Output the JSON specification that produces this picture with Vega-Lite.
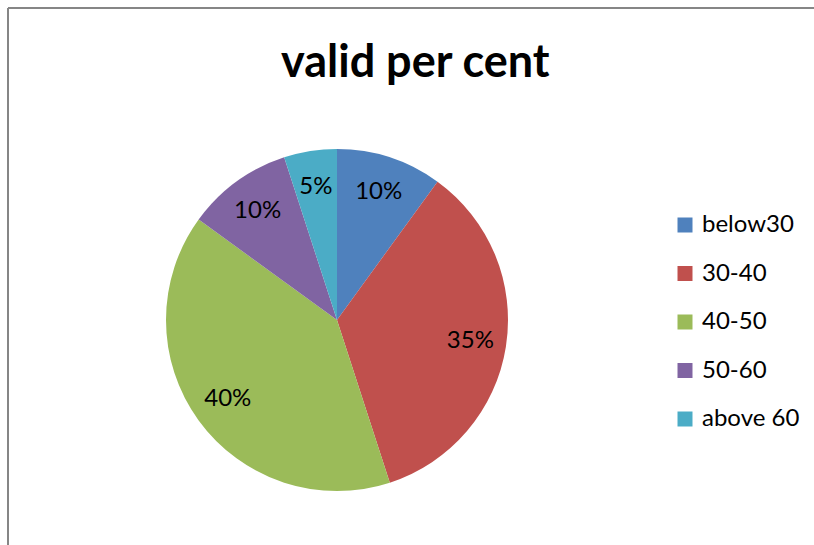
{
  "$schema": "https://vega.github.io/schema/vega-lite/v6.json",
  "autosize": "none",
  "width": 806,
  "height": 537,
  "padding": {"left": 8, "top": 8, "right": 0, "bottom": 0},
  "background": "white",
  "config": {
    "view": {"stroke": null},
    "font": "Lato"
  },
  "title": {
    "text": "valid per cent",
    "fontSize": 45,
    "font": "Lato",
    "fontWeight": "bold",
    "color": "#000000",
    "anchor": "start",
    "dx": 274,
    "offset": 0,
    "dy": 115,
    "baseline": "alphabetic"
  },
  "data": {
    "values": [
      {"group": "below30", "pct": 10, "idx": 1, "label": "10%"},
      {"group": "30-40", "pct": 35, "idx": 2, "label": "35%"},
      {"group": "40-50", "pct": 40, "idx": 3, "label": "40%"},
      {"group": "50-60", "pct": 10, "idx": 4, "label": "10%"},
      {"group": "above 60", "pct": 5, "idx": 5, "label": "5%"}
    ]
  },
  "layer": [
    {
      "mark": {"type": "arc", "outerRadius": 171},
      "encoding": {
        "theta": {"field": "pct", "type": "quantitative", "stack": true},
        "order": {"field": "idx", "type": "quantitative"},
        "x": {"datum": 0.40819, "type": "quantitative", "scale": {"domain": [0, 1]}, "axis": null},
        "y": {"datum": 0.41899, "type": "quantitative", "scale": {"domain": [0, 1]}, "axis": null},
        "color": {
          "field": "group",
          "type": "nominal",
          "sort": ["below30", "30-40", "40-50", "50-60", "above 60"],
          "scale": {
            "domain": ["below30", "30-40", "40-50", "50-60", "above 60"],
            "range": ["#4F81BD", "#C0504D", "#9BBB59", "#8064A2", "#4BACC6"]
          },
          "legend": {
            "title": null,
            "orient": "none",
            "legendX": 665,
            "legendY": 205,
            "symbolType": "square",
            "symbolSize": 225,
            "symbolStrokeWidth": 0,
            "labelFontSize": 24,
            "labelFont": "Lato",
            "labelColor": "#000000",
            "labelOffset": 5,
            "rowPadding": 24.5,
            "labelLimit": 200
          }
        }
      }
    },
    {
      "mark": {"type": "text", "radius": 135, "fontSize": 24, "font": "Lato", "color": "#000000"},
      "encoding": {
        "theta": {"field": "pct", "type": "quantitative", "stack": true},
        "order": {"field": "idx", "type": "quantitative"},
        "x": {"datum": 0.40819, "type": "quantitative", "scale": {"domain": [0, 1]}, "axis": null},
        "y": {"datum": 0.41899, "type": "quantitative", "scale": {"domain": [0, 1]}, "axis": null},
        "text": {"field": "label", "type": "nominal"}
      }
    },
    {
      "mark": {"type": "rule", "color": "#868686", "strokeWidth": 2},
      "encoding": {
        "x": {"datum": 0, "type": "quantitative", "scale": {"domain": [0, 1]}, "axis": null}
      }
    },
    {
      "mark": {"type": "rule", "color": "#868686", "strokeWidth": 2},
      "encoding": {
        "y": {"datum": 1, "type": "quantitative", "scale": {"domain": [0, 1]}, "axis": null}
      }
    }
  ]
}
